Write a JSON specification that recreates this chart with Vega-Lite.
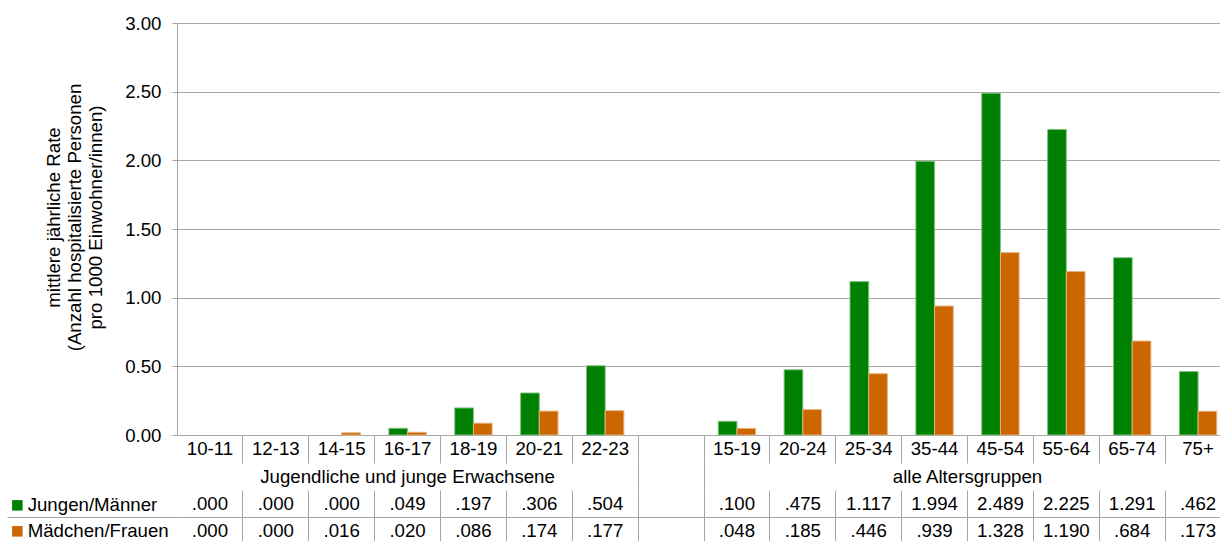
{
  "$schema": "https://vega.github.io/schema/vega-lite/v6.json",
  "autosize": {"type": "pad"},
  "padding": {"left": 6, "top": 14, "right": 0, "bottom": 0},
  "bounds": "flush",
  "spacing": 0,
  "background": "white",
  "config": {
    "font": "Liberation Sans",
    "view": {"stroke": null},
    "axis": {"labelColor": "#000000", "titleColor": "#000000", "labelFont": "Liberation Sans", "titleFont": "Liberation Sans"},
    "legend": {"labelFont": "Liberation Sans"}
  },
  "datasets": {
    "rates": [
      {"cat": "10-11", "sex": "Jungen/Männer", "rate": 0.000},
      {"cat": "12-13", "sex": "Jungen/Männer", "rate": 0.000},
      {"cat": "14-15", "sex": "Jungen/Männer", "rate": 0.000},
      {"cat": "16-17", "sex": "Jungen/Männer", "rate": 0.049},
      {"cat": "18-19", "sex": "Jungen/Männer", "rate": 0.197},
      {"cat": "20-21", "sex": "Jungen/Männer", "rate": 0.306},
      {"cat": "22-23", "sex": "Jungen/Männer", "rate": 0.504},
      {"cat": "15-19", "sex": "Jungen/Männer", "rate": 0.100},
      {"cat": "20-24", "sex": "Jungen/Männer", "rate": 0.475},
      {"cat": "25-34", "sex": "Jungen/Männer", "rate": 1.117},
      {"cat": "35-44", "sex": "Jungen/Männer", "rate": 1.994},
      {"cat": "45-54", "sex": "Jungen/Männer", "rate": 2.489},
      {"cat": "55-64", "sex": "Jungen/Männer", "rate": 2.225},
      {"cat": "65-74", "sex": "Jungen/Männer", "rate": 1.291},
      {"cat": "75+", "sex": "Jungen/Männer", "rate": 0.462},
      {"cat": "10-11", "sex": "Mädchen/Frauen", "rate": 0.000},
      {"cat": "12-13", "sex": "Mädchen/Frauen", "rate": 0.000},
      {"cat": "14-15", "sex": "Mädchen/Frauen", "rate": 0.016},
      {"cat": "16-17", "sex": "Mädchen/Frauen", "rate": 0.020},
      {"cat": "18-19", "sex": "Mädchen/Frauen", "rate": 0.086},
      {"cat": "20-21", "sex": "Mädchen/Frauen", "rate": 0.174},
      {"cat": "22-23", "sex": "Mädchen/Frauen", "rate": 0.177},
      {"cat": "15-19", "sex": "Mädchen/Frauen", "rate": 0.048},
      {"cat": "20-24", "sex": "Mädchen/Frauen", "rate": 0.185},
      {"cat": "25-34", "sex": "Mädchen/Frauen", "rate": 0.446},
      {"cat": "35-44", "sex": "Mädchen/Frauen", "rate": 0.939},
      {"cat": "45-54", "sex": "Mädchen/Frauen", "rate": 1.328},
      {"cat": "55-64", "sex": "Mädchen/Frauen", "rate": 1.190},
      {"cat": "65-74", "sex": "Mädchen/Frauen", "rate": 0.684},
      {"cat": "75+", "sex": "Mädchen/Frauen", "rate": 0.173}
    ],
    "cats": [
      {"cat": "10-11"}, {"cat": "12-13"}, {"cat": "14-15"}, {"cat": "16-17"},
      {"cat": "18-19"}, {"cat": "20-21"}, {"cat": "22-23"}, {"cat": " "},
      {"cat": "15-19"}, {"cat": "20-24"}, {"cat": "25-34"}, {"cat": "35-44"},
      {"cat": "45-54"}, {"cat": "55-64"}, {"cat": "65-74"}, {"cat": "75+"}
    ],
    "groups": [
      {"cat": "16-17", "label": "Jugendliche und junge Erwachsene", "part": "a"},
      {"cat": "45-54", "label": "alle Altersgruppen", "part": "b"}
    ]
  },
  "resolve": {"scale": {"x": "independent", "y": "independent"}},
  "vconcat": [
    {
      "width": 1054,
      "height": 412,
      "data": {"name": "rates"},
      "transform": [{"filter": "datum.rate > 0"}],
      "mark": {"type": "bar", "strokeWidth": 1},
      "encoding": {
        "x": {
          "field": "cat", "type": "nominal", "sort": null,
          "scale": {"type": "band", "domain": ["10-11","12-13","14-15","16-17","18-19","20-21","22-23"," ","15-19","20-24","25-34","35-44","45-54","55-64","65-74","75+"], "paddingInner": 0.4325, "paddingOuter": 0.21625},
          "axis": null
        },
        "xOffset": {"field": "sex", "type": "nominal", "scale": {"domain": ["Jungen/Männer", "Mädchen/Frauen"]}},
        "y": {
          "field": "rate", "type": "quantitative",
          "scale": {"domain": [0, 3], "nice": false},
          "axis": {
            "values": [0, 0.5, 1, 1.5, 2, 2.5, 3],
            "format": ".2f",
            "title": ["mittlere jährliche Rate", "(Anzahl hospitalisierte Personen", "pro 1000 Einwohner/innen)"],
            "titleFontSize": 18.67, "titleFontWeight": "normal", "titleLineHeight": 21, "titlePadding": 19, "titleY": 194,
            "labelFontSize": 18.67, "labelPadding": 11,
            "grid": true, "gridColor": "#a6a6a6", "gridWidth": 1,
            "domainColor": "#a6a6a6", "tickColor": "#a6a6a6", "tickSize": 5
          }
        },
        "color": {
          "field": "sex", "type": "nominal",
          "scale": {"domain": ["Jungen/Männer", "Mädchen/Frauen"], "range": ["#008000", "#cc6600"]},
          "legend": {
            "title": null, "orient": "none", "legendX": -169, "legendY": 473,
            "direction": "vertical", "padding": 0,
            "symbolType": "square", "symbolSize": 110, "symbolStrokeWidth": 0,
            "labelFontSize": 18.67, "labelColor": "#000000", "labelOffset": 1, "labelLimit": 300,
            "rowPadding": 6
          }
        },
        "stroke": {
          "field": "sex", "type": "nominal",
          "scale": {"domain": ["Jungen/Männer", "Mädchen/Frauen"], "range": ["#80c080", "#e6b280"]},
          "legend": null
        }
      }
    },
    {
      "width": 1054,
      "height": 28,
      "data": {"name": "cats"},
      "mark": {"type": "text", "fontSize": 18.67, "color": "#000000", "baseline": "middle"},
      "encoding": {
        "x": {
          "field": "cat", "type": "nominal", "sort": null,
          "scale": {"type": "band", "domain": ["10-11","12-13","14-15","16-17","18-19","20-21","22-23"," ","15-19","20-24","25-34","35-44","45-54","55-64","65-74","75+"], "padding": 0},
          "axis": {
            "grid": true, "bandPosition": 0, "labels": false, "ticks": false, "domain": false, "title": null,
            "gridColor": {"condition": {"test": "datum.value === '10-11'", "value": "transparent"}, "value": "#a6a6a6"}
          }
        },
        "text": {"field": "cat"}
      }
    },
    {
      "width": 1054,
      "height": 27,
      "data": {"name": "groups"},
      "layer": [
        {
          "transform": [{"filter": "datum.part === 'a'"}],
          "mark": {"type": "text", "fontSize": 18.67, "color": "#000000", "baseline": "middle"},
          "encoding": {
            "x": {
              "field": "cat", "type": "nominal", "sort": null, "bandPosition": 0.5,
              "scale": {"type": "band", "domain": ["10-11","12-13","14-15","16-17","18-19","20-21","22-23"," ","15-19","20-24","25-34","35-44","45-54","55-64","65-74","75+"], "padding": 0},
              "axis": {
                "grid": true, "bandPosition": 0, "labels": false, "ticks": false, "domain": false, "title": null,
                "gridColor": {"condition": {"test": "datum.value === ' ' || datum.value === '15-19'", "value": "#a6a6a6"}, "value": "transparent"}
              }
            },
            "text": {"field": "label"}
          }
        },
        {
          "transform": [{"filter": "datum.part === 'b'"}],
          "mark": {"type": "text", "fontSize": 18.67, "color": "#000000", "baseline": "middle"},
          "encoding": {
            "x": {"field": "cat", "type": "nominal", "sort": null, "bandPosition": 0},
            "text": {"field": "label"}
          }
        }
      ]
    },
    {
      "width": 1054,
      "height": 54,
      "data": {"name": "rates"},
      "transform": [{"calculate": "datum.rate < 1 ? substring(format(datum.rate, '.3f'), 1) : format(datum.rate, '.3f')", "as": "label"}],
      "mark": {"type": "text", "fontSize": 18.67, "color": "#000000", "baseline": "middle"},
      "encoding": {
        "x": {
          "field": "cat", "type": "nominal", "sort": null,
          "scale": {"type": "band", "domain": ["10-11","12-13","14-15","16-17","18-19","20-21","22-23"," ","15-19","20-24","25-34","35-44","45-54","55-64","65-74","75+"], "padding": 0},
          "axis": {
            "grid": true, "bandPosition": 0, "labels": false, "ticks": false, "domain": false, "title": null,
            "gridColor": {"condition": {"test": "datum.value === '10-11'", "value": "transparent"}, "value": "#a6a6a6"}
          }
        },
        "y": {
          "field": "sex", "type": "nominal",
          "scale": {"type": "band", "domain": ["Jungen/Männer", "Mädchen/Frauen"], "padding": 0},
          "axis": {
            "labels": false, "domain": false, "title": null,
            "ticks": true, "tickSize": 170, "bandPosition": 0,
            "tickColor": {"condition": {"test": "datum.value === 'Mädchen/Frauen'", "value": "#a6a6a6"}, "value": "transparent"},
            "grid": true,
            "gridColor": {"condition": {"test": "datum.value === 'Mädchen/Frauen'", "value": "#a6a6a6"}, "value": "transparent"}
          }
        },
        "text": {"field": "label"}
      }
    }
  ]
}
